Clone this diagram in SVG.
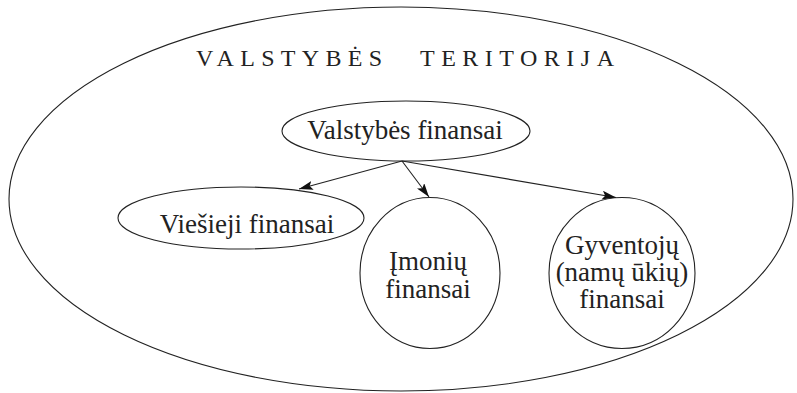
<svg xmlns="http://www.w3.org/2000/svg" width="797" height="393" viewBox="0 0 797 393">
  <style>
    .shape { fill: none; stroke: #222; stroke-width: 1.1; }
    .edge { fill: none; stroke: #222; stroke-width: 1.1; }
    .lbl { font-family: "Liberation Serif", "Times New Roman", serif; font-size: 27px; fill: #222; text-anchor: middle; }
    .title { font-family: "Liberation Serif", "Times New Roman", serif; font-size: 24px; fill: #222; }
  </style>
  <defs>
    <marker id="arrow" viewBox="0 0 14 9" refX="14" refY="4.5" markerWidth="14" markerHeight="9" markerUnits="userSpaceOnUse" orient="auto">
      <path d="M0,0 L14,4.5 L0,9 L3,4.5 Z" fill="#111"/>
    </marker>
  </defs>
  <rect width="797" height="393" fill="#fff"/>

  <!-- territory boundary -->
  <g id="territory">
    <ellipse class="shape" cx="401" cy="199" rx="392" ry="192"/>
    <text class="title" x="196" y="66" textLength="186" lengthAdjust="spacing">VALSTYBĖS</text>
    <text class="title" x="420" y="66" textLength="194" lengthAdjust="spacing">TERITORIJA</text>
  </g>

  <g id="valstybes-finansai">
    <ellipse class="shape" cx="406" cy="131" rx="124" ry="30"/>
    <text class="lbl" x="405" y="139">Valstybės finansai</text>
  </g>

  <g id="viesieji-finansai">
    <ellipse class="shape" cx="241" cy="218" rx="123" ry="31"/>
    <text class="lbl" x="247" y="233">Viešieji finansai</text>
  </g>

  <g id="imoniu-finansai">
    <ellipse class="shape" cx="430" cy="273" rx="70" ry="75.5"/>
    <text class="lbl" x="428" y="270">Įmonių</text>
    <text class="lbl" x="428" y="298">finansai</text>
  </g>

  <g id="gyventoju-finansai">
    <ellipse class="shape" cx="622" cy="273" rx="73" ry="75.5"/>
    <text class="lbl" x="622" y="254">Gyventojų</text>
    <text class="lbl" x="622" y="281">(namų ūkių)</text>
    <text class="lbl" x="622" y="308">finansai</text>
  </g>

  <g id="connectors">
    <line class="edge" x1="402" y1="161" x2="299" y2="189" marker-end="url(#arrow)"/>
    <line class="edge" x1="402" y1="161" x2="429" y2="197" marker-end="url(#arrow)"/>
    <line class="edge" x1="402" y1="161" x2="616" y2="197.5" marker-end="url(#arrow)"/>
  </g>
</svg>
